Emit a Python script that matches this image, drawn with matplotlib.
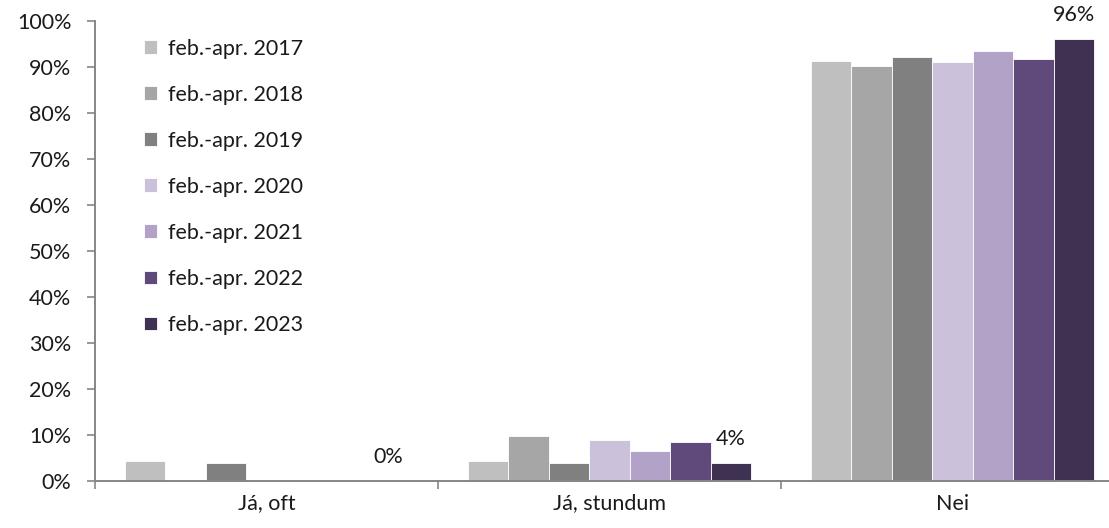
import matplotlib
matplotlib.use("Agg")
import matplotlib.pyplot as plt
import numpy as np
from matplotlib.ticker import FuncFormatter, FixedLocator

categories = ["Já, oft", "Já, stundum", "Nei"]
series_labels = ["feb.-apr. 2017", "feb.-apr. 2018", "feb.-apr. 2019",
                 "feb.-apr. 2020", "feb.-apr. 2021", "feb.-apr. 2022",
                 "feb.-apr. 2023"]
v2017 = [4.4, 4.4, 91.4]
v2018 = [0.0, 9.8, 90.2]
v2019 = [4.0, 4.0, 92.2]
v2020 = [0.0, 8.9, 91.0]
v2021 = [0.0, 6.5, 93.5]
v2022 = [0.0, 8.5, 91.8]
v2023 = [0.0, 4.0, 96.0]
series_values = [v2017, v2018, v2019, v2020, v2021, v2022, v2023]
colors = ["#BFBFBF", "#A6A6A6", "#808080", "#CCC1DA", "#B3A2C7", "#604A7B", "#3F3151"]

plt.rcParams['font.family'] = ['Lato', 'DejaVu Sans']
FS = 15.5

W, H = 1109, 528
fig = plt.figure(figsize=(W/100, H/100), dpi=100)
ax = fig.add_axes([95/W, 47/H, 1029/W, 460/H])

n = len(series_values)
bw = 0.118
x = np.arange(len(categories))
for i, (vals, c, lab) in enumerate(zip(series_values, colors, series_labels)):
    pos = x + (i - (n-1)/2) * bw
    ax.bar(pos, vals, width=bw, color=c, label=lab, edgecolor='white', linewidth=0.6)
    if i == n-1:
        for p, v in zip(pos, vals):
            ax.annotate(f"{v:.0f}%", (p, v), xytext=(0, 14), textcoords='offset pixels',
                        ha='center', va='bottom', fontsize=FS, color='#1a1a1a')

ax.set_xlim(-0.5, 2.5)
ax.set_ylim(0, 100)
ax.set_yticks(np.arange(0, 101, 10))
ax.yaxis.set_major_formatter(FuncFormatter(lambda v, p: f"{v:.0f}%"))
ax.set_xticks(x)
ax.set_xticklabels(categories)
ax.xaxis.set_minor_locator(FixedLocator([-0.5, 0.5, 1.5, 2.5]))
ax.tick_params(axis='x', which='major', length=0, labelsize=FS, pad=9, labelcolor='#1a1a1a')
ax.tick_params(axis='x', which='minor', length=6, color='#868686', width=1.2)
ax.tick_params(axis='y', length=6, color='#868686', width=1.2, labelsize=FS, pad=11, labelcolor='#1a1a1a')
for s in ['top', 'right']:
    ax.spines[s].set_visible(False)
for s in ['left', 'bottom']:
    ax.spines[s].set_color('#868686')
    ax.spines[s].set_linewidth(1.4)

leg = ax.legend(loc='upper left', bbox_to_anchor=(0.039, 0.98), frameon=False,
                fontsize=FS, handlelength=0.62, handleheight=0.62, handletextpad=0.5,
                labelspacing=1.21, borderaxespad=0)
for t in leg.get_texts():
    t.set_color('#1a1a1a')

fig.savefig("out.png", dpi=100)
